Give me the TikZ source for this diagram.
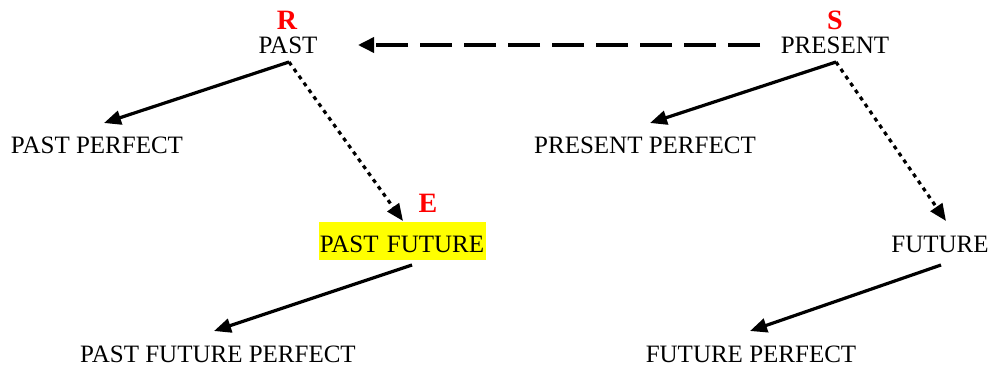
\documentclass[tikz,border=0pt]{standalone}
\usepackage{fontspec}
\setmainfont{Liberation Serif}
\usetikzlibrary{arrows.meta}
\definecolor{hiyellow}{RGB}{255,255,0}
\tikzset{
  lbl/.style={anchor=base, inner sep=0pt, text height=17pt, text depth=5pt, font=\fontsize{25}{30}\selectfont},
  tag/.style={anchor=base, inner sep=0pt, text height=19pt, text depth=0pt, text=red, font=\fontsize{28}{32}\selectfont\bfseries},
  arr/.style={line width=3.2pt, -{Triangle[length=17pt,width=14pt]}},
  dotarr/.style={arr, dash pattern=on 4pt off 4.5pt},
  dasharr/.style={line width=3.6pt, -{Triangle[length=16pt,width=15pt]}, dash pattern=on 32pt off 12pt}
}
\begin{document}
\begin{tikzpicture}[x=1pt,y=-1pt]
\useasboundingbox (0,0) rectangle (994,372);
% labels
\node[tag] (R) at (287,30) {R};
\node[tag] (S) at (835,29) {S};
\node[tag] (E) at (428,212) {E};
\node[lbl] (past) at (288,53) {PAST};
\node[lbl] (present) at (835,53) {PRESENT};
\node[lbl] (pastperf) at (97,153) {PAST PERFECT};
\node[lbl] (presperf) at (645,153) {PRESENT PERFECT};
\node[lbl, fill=hiyellow, text height=30pt, text depth=8pt, text width=167pt, align=center] (pastfut) at (402,252) {PAST FUTURE};
\node[lbl] (future) at (940,252) {FUTURE};
\node[lbl] (pfp) at (218,362) {PAST FUTURE PERFECT};
\node[lbl] (fp) at (751,362) {FUTURE PERFECT};
% connector endpoints
\coordinate (pastOut) at (289,62);
\coordinate (presOut) at (836,62);
\coordinate (pfOut) at (412,265);
\coordinate (futOut) at (941,265);
\coordinate (dashStart) at (760,45);
\coordinate (pastIn) at (358,45);
\coordinate (ppIn) at (104,123);
\coordinate (prpIn) at (650,123);
\coordinate (pfIn) at (403,221);
\coordinate (futIn) at (946,221);
\coordinate (pfpIn) at (214,331);
\coordinate (fpIn) at (750,331);
% connectors
\draw[dasharr] (dashStart) -- (pastIn);
\draw[arr] (pastOut) -- (ppIn);
\draw[dotarr] (pastOut) -- (pfIn);
\draw[arr] (presOut) -- (prpIn);
\draw[dotarr] (presOut) -- (futIn);
\draw[arr] (pfOut) -- (pfpIn);
\draw[arr] (futOut) -- (fpIn);
\end{tikzpicture}
\end{document}
